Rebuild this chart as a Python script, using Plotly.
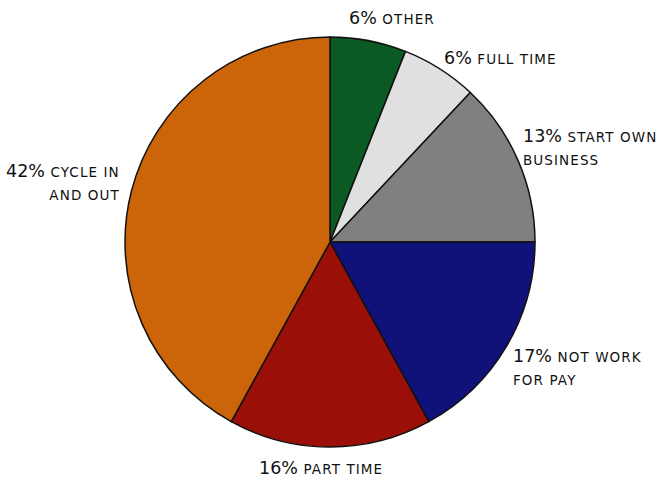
import plotly.graph_objects as go

categories = ["Other", "Full time", "Start own business", "Not work for pay", "Part time", "Cycle in and out"]
values = [6, 6, 13, 17, 16, 42]
colors = ["#0B5A24", "#E0E0E0", "#808080", "#11117A", "#9A1008", "#CC640A"]
label_lines = [["OTHER"], ["FULL TIME"], ["START OWN", "BUSINESS"], ["NOT WORK", "FOR PAY"], ["PART TIME"], ["CYCLE IN", "AND OUT"]]

W, H = 660, 478
cx, cy, r = 330, 242, 205

fig = go.Figure(go.Pie(
    labels=categories, values=values, sort=False, direction="clockwise", rotation=0,
    marker=dict(colors=colors, line=dict(color="#111111", width=1.5)),
    textinfo="none", hoverinfo="label+percent", showlegend=False,
    domain=dict(x=[(cx - r) / W, (cx + r) / W], y=[1 - (cy + r) / H, 1 - (cy - r) / H]),
))

# label anchor positions (pixels): x, y-center of first line, anchor
label_pos = [
    (347, 18, "left"),
    (442, 58, "left"),
    (521, 136, "left"),
    (511, 356, "left"),
    (257, 468, "left"),
    (122, 171, "right"),
]

sc = "font-size:13.5px;letter-spacing:1.1px"
for v, lines, (px, py, anchor) in zip(values, label_lines, label_pos):
    first = f"{v}% <span style='{sc}'>{lines[0]}</span>"
    rest = [f"<span style='{sc}'>{l}</span>" for l in lines[1:]]
    text = "<br>".join([first] + rest)
    fig.add_annotation(
        x=px / W, y=1 - (py - 12) / H, xref="paper", yref="paper",
        xanchor=anchor, yanchor="top", align=anchor, showarrow=False,
        text=text, font=dict(family="DejaVu Sans", size=17.5, color="#111111"),
    )

fig.update_layout(
    width=W, height=H, margin=dict(l=0, r=0, t=0, b=0),
    paper_bgcolor="white", plot_bgcolor="white",
)
fig.write_html("out.html", config={"displayModeBar": False},
               post_script="document.body.style.margin='0';")
